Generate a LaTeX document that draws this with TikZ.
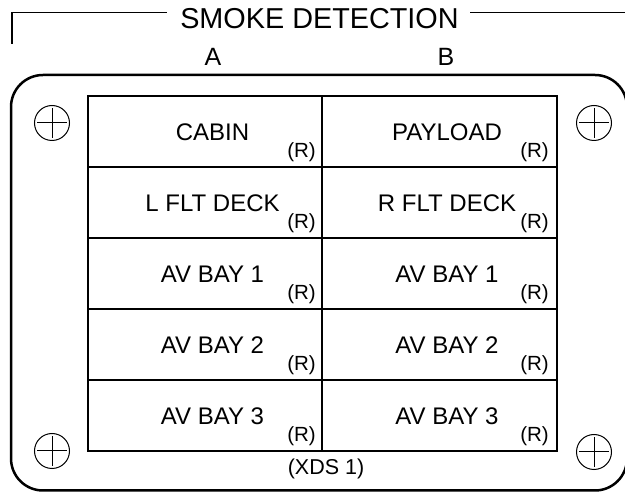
\documentclass[tikz,border=0pt]{standalone}
\usepackage{fontspec}
\setmainfont{Liberation Sans}
\usetikzlibrary{calc}

\begin{document}
\begin{tikzpicture}[x=1pt,y=-1pt,
  zone/.style={anchor=base,font=\fontsize{24}{27}\selectfont},
  rmark/.style={anchor=base east,inner sep=0pt,font=\fontsize{20.5}{23}\selectfont},
  screw/.style={line width=1}]

\useasboundingbox (0,0) rectangle (625,494);
\clip (0,0) rectangle (625,494);

% bracket with title
\draw[line width=1.8] (12,44) -- (12,12.5) -- (167,12.5);
\draw[line width=1.8] (470,12.5) -- (625,12.5);
\node[anchor=base,font=\fontsize{28.8}{31}\selectfont] (title) at (319.5,28.3) {SMOKE DETECTION};
\node[anchor=base,font=\fontsize{25}{28}\selectfont] (colA) at (213,66) {A};
\node[anchor=base,font=\fontsize{25}{28}\selectfont] (colB) at (446,66) {B};

% panel
\draw[line width=2.5, rounded corners=32] (11,75) rectangle (627,490.5);

% screws
\foreach \sx/\sy in {52/123, 594/123, 52/451, 594/452} {
  \draw[screw] (\sx,\sy) circle (17.5);
  \draw[screw] (\sx-15,\sy) -- (\sx+15,\sy);
  \draw[screw] (\sx,\sy-15) -- (\sx,\sy+15);
}

% switch table
\draw[line width=1.7] (88,96) rectangle (557,451);
\draw[line width=1.7] (322,96) -- (322,451);
\foreach \r in {1,2,3,4} {
  \draw[line width=1.7] (88,96+71*\r) -- (557,96+71*\r);
}

\foreach \r/\ta/\tb in {0/CABIN/PAYLOAD, 1/L FLT DECK/R FLT DECK, 2/AV BAY 1/AV BAY 1,
                        3/AV BAY 2/AV BAY 2, 4/AV BAY 3/AV BAY 3} {
  \node[zone] (za\r) at (212.5,140.5+71*\r) {\ta};
  \node[zone] (zb\r) at (447,140.5+71*\r) {\tb};
  \node[rmark] (ra\r) at (316,158+71*\r) {(R)};
  \node[rmark] (rb\r) at (549,158+71*\r) {(R)};
}

\node[anchor=base,font=\fontsize{21.5}{24}\selectfont] (xds) at (326,475) {(XDS 1)};

\end{tikzpicture}
\end{document}
